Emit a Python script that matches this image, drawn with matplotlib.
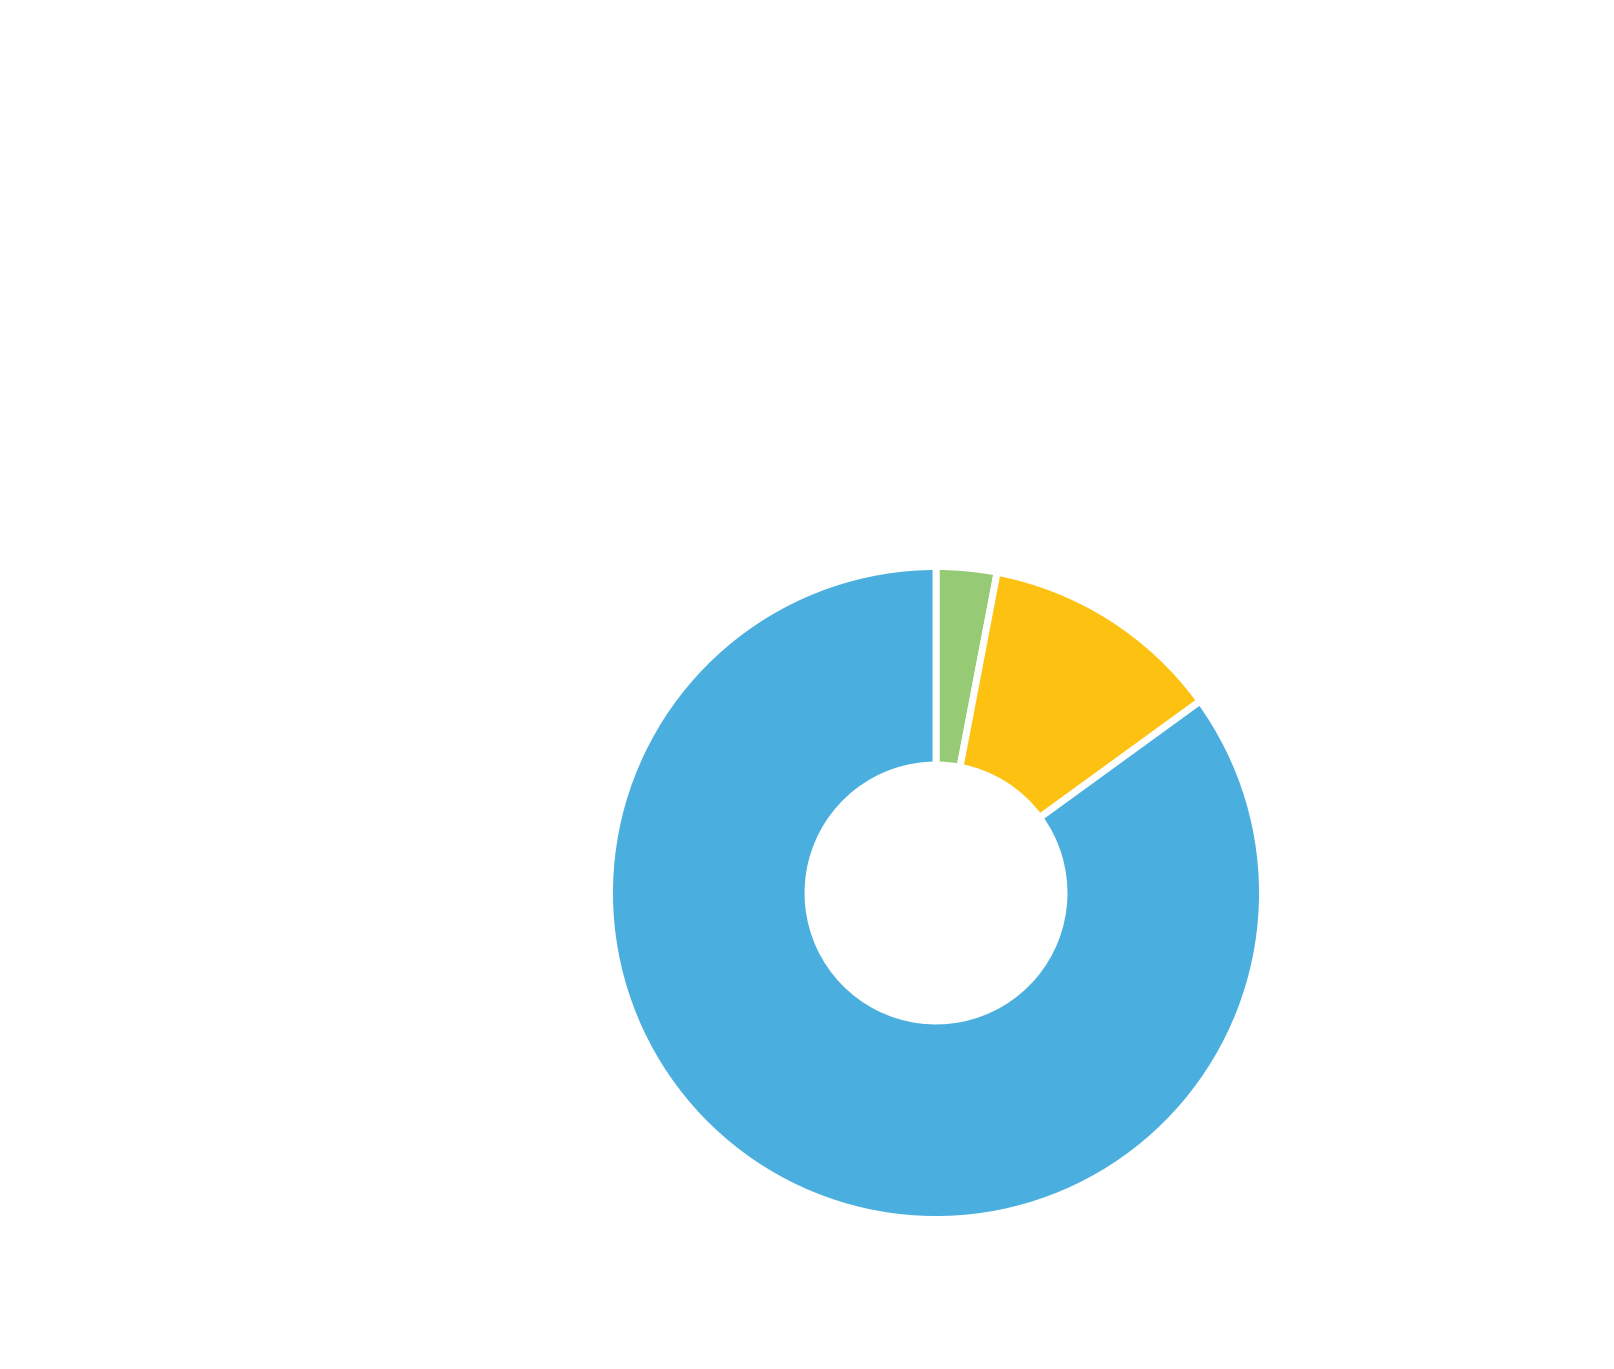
import matplotlib
matplotlib.use("Agg")
import matplotlib.pyplot as plt

labels = ["Green", "Yellow", "Blue"]
values = [3, 12, 85]
colors = ["#96CA75", "#FDC112", "#4AAFDE"]

fig = plt.figure(figsize=(16.14, 13.69), dpi=100)
R = 326.5
cx, cy = 936.0, 893.0
ax = fig.add_axes([(cx - R) / 1614, (1369 - cy - R) / 1369, 2 * R / 1614, 2 * R / 1369])
ax.pie(values, colors=colors, startangle=90, counterclock=False, radius=1.0,
       wedgeprops=dict(width=0.608, edgecolor="white", linewidth=5))
ax.set_xlim(-1, 1)
ax.set_ylim(-1, 1)
ax.set_aspect("equal")
ax.axis("off")
fig.savefig("out.png", dpi=100, facecolor="white")
